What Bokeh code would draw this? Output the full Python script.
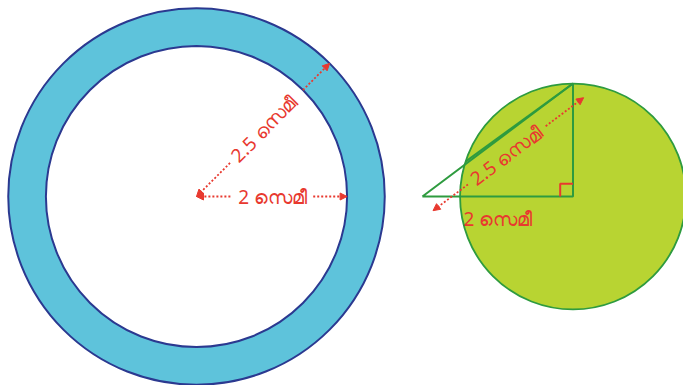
import math
from bokeh.plotting import figure
from bokeh.models import Range1d, Arrow, NormalHead, ColumnDataSource
from bokeh.embed import file_html
from bokeh.resources import INLINE
from bokeh.core.properties import value

# ---- data (lengths in cm) ----
ring_center_x = [0.0]
ring_center_y = [0.0]
ring_inner_r = [2.0]
ring_outer_r = [2.5]
disc_center_x = [5.0]
disc_center_y = [0.0]
disc_r = [1.5]
tri_leg_h = 2.0        # horizontal leg
tri_leg_v = 1.5        # vertical leg (radius)
chord_angle_deg = 162  # chord end point on the disc
label_2 = "2 സെമീ"
label_25 = "2.5 സെമീ"

RED = "#e8392f"
FONT = "Noto Sans"

PXU = 75.3
W, H = 683, 385
p = figure(width=W, height=H, output_backend="svg", toolbar_location=None,
           x_range=Range1d(-196 / PXU, (W - 196) / PXU),
           y_range=Range1d(-(H - 196) / PXU, 196 / PXU),
           min_border=0, background_fill_color="white", border_fill_color="white")
p.axis.visible = False
p.grid.visible = False
p.outline_line_color = None

# annulus (outer blue disc + inner white disc)
p.ellipse(x=ring_center_x, y=ring_center_y,
          width=[2 * r for r in ring_outer_r], height=[2 * r for r in ring_outer_r],
          fill_color="#5ec3db", line_color="#2b3990", line_width=2)
p.ellipse(x=ring_center_x, y=ring_center_y,
          width=[2 * r for r in ring_inner_r], height=[2 * r for r in ring_inner_r],
          fill_color="white", line_color="#2b3990", line_width=2)
# disc
p.ellipse(x=disc_center_x, y=disc_center_y,
          width=[2 * r for r in disc_r], height=[2 * r for r in disc_r],
          fill_color="#b8d432", line_color="#2e9b3f", line_width=1.8)

cx, cy = disc_center_x[0], disc_center_y[0]
ax, ay = cx - tri_leg_h, cy
tx, ty = cx, cy + tri_leg_v
p.line(x=[ax, cx, tx, ax], y=[ay, cy, ty, ay], line_color="#2e9b3f", line_width=2)
ca = math.radians(chord_angle_deg)
p.line(x=[cx + disc_r[0] * math.cos(ca), tx], y=[cy + disc_r[0] * math.sin(ca), ty],
       line_color="#2e9b3f", line_width=2)

# right-angle marker
m = 0.17
p.line(x=[cx - m, cx - m, cx], y=[cy, cy + m, cy + m], line_color=RED, line_width=2)


def seg(xs, ys, xe, ye):
    p.add_layout(Arrow(x_start=xs, y_start=ys, x_end=xe, y_end=ye,
                       start=None,
                       end=NormalHead(size=7, fill_color=RED, line_color=RED, line_width=1),
                       line_color=RED, line_width=1.8, line_dash="2 2"))


# left horizontal radius (2 cm)
rx, ry = ring_center_x[0], ring_center_y[0]
rin = ring_inner_r[0]
rout = ring_outer_r[0]
seg(rx + 0.45, ry, rx, ry)
seg(rx + 1.55, ry, rx + rin, ry)
# left diagonal (2.5 cm) at 45 deg
u = (math.cos(math.pi / 4), math.sin(math.pi / 4))
seg(rx + 0.63 * u[0], ry + 0.63 * u[1], rx, ry)
seg(rx + 2.0 * u[0], ry + 2.0 * u[1], rx + rout * u[0], ry + rout * u[1])

# right arrow parallel to hypotenuse
hl = math.hypot(tri_leg_h, tri_leg_v)
d = (tri_leg_h / hl, tri_leg_v / hl)
n = (d[1], -d[0])
off = 0.235
bx, by = ax + off * n[0], ay + off * n[1]
seg(bx + 0.58 * d[0], by + 0.58 * d[1], bx, by)
seg(bx + 1.87 * d[0], by + 1.87 * d[1], bx + hl * d[0], by + hl * d[1])

ang_r = math.atan2(d[1], d[0])
src_c = ColumnDataSource(dict(
    x=[rx + 1.01, rx + 1.27 * u[0], bx + 1.22 * d[0]],
    y=[ry, ry + 1.27 * u[1], by + 1.22 * d[1]],
    t=[label_2, label_25, label_25],
    a=[0.0, math.pi / 4, ang_r],
))
p.text(x="x", y="y", text="t", angle="a", source=src_c, text_color=RED,
       text_font=value(FONT), text_font_size="19px", text_align="center",
       text_baseline="middle")
src_l = ColumnDataSource(dict(x=[cx - 1.454], y=[cy - 0.305], t=[label_2]))
p.text(x="x", y="y", text="t", source=src_l, text_color=RED,
       text_font=value(FONT), text_font_size="19px", text_align="left",
       text_baseline="middle")

open("out.html", "w").write(file_html(p, INLINE))
